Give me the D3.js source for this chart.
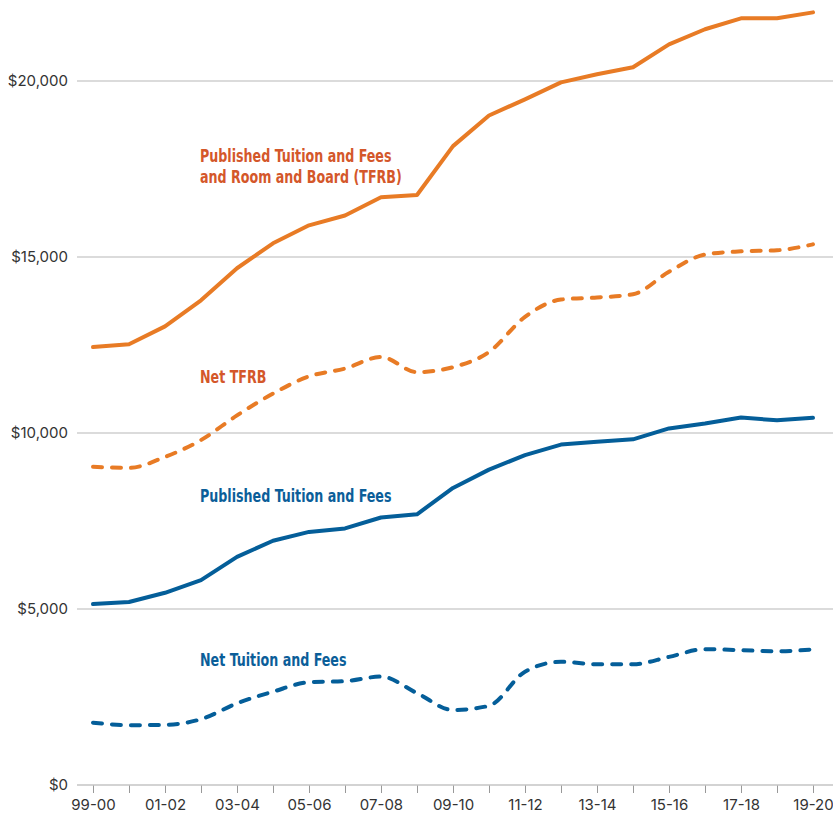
<!DOCTYPE html>
<html>
<head>
<meta charset="utf-8">
<script src="https://cdn.jsdelivr.net/npm/d3@7"></script>
<style>
  body { margin: 0; background: #fff; }
  svg { display: block; }
</style>
</head>
<body>
<div class="chart"></div>
<script>
// Academic years on the x axis
var years = ["99-00", "00-01", "01-02", "02-03", "03-04", "04-05", "05-06", "06-07", "07-08", "08-09",
             "09-10", "10-11", "11-12", "12-13", "13-14", "14-15", "15-16", "16-17", "17-18", "18-19", "19-20"];

// Only every other year gets a label
var yearLabels = ["99-00", "01-02", "03-04", "05-06", "07-08", "09-10", "11-12", "13-14", "15-16", "17-18", "19-20"];

var yTicks = [0, 5000, 10000, 15000, 20000];

// Series values (dollars)
var publishedTFRB = [12440, 12520, 13030, 13770, 14680, 15390, 15900, 16180, 16700, 16760,
                     18150, 19020, 19480, 19960, 20190, 20390, 21040, 21470, 21780, 21780, 21950];
var netTFRB = [9040, 9010, 9320, 9800, 10500, 11120, 11610, 11830, 12160, 11730,
               11870, 12300, 13300, 13790, 13850, 13940, 14580, 15070, 15160, 15190, 15360];
var publishedTF = [5140, 5200, 5460, 5820, 6480, 6940, 7190, 7290, 7600, 7690,
                   8440, 8960, 9370, 9670, 9750, 9820, 10130, 10270, 10440, 10360, 10430];
var netTF = [1770, 1700, 1710, 1870, 2320, 2650, 2920, 2950, 3080, 2610,
             2130, 2250, 3220, 3500, 3430, 3430, 3640, 3860, 3830, 3800, 3850];

var width = 833, height = 819;
var orange = "#e87b25", blue = "#045e99";
var orangeText = "#d4572a", blueText = "#0b5e99";

var svg = d3.select(".chart").append("svg")
  .attr("width", width)
  .attr("height", height);

//Scales
var x = d3.scalePoint().domain(years).range([93, 813]);
var y = d3.scaleLinear().domain([0, 20000]).range([785, 81]);

//Grid lines
svg.selectAll(".grid").data(yTicks.slice(1)).enter().append("line")
  .attr("x1", 77).attr("x2", width)
  .attr("y1", function(d) { return y(d); })
  .attr("y2", function(d) { return y(d); })
  .attr("stroke", "#cfcfcf")
  .attr("stroke-width", 1.5);

//Y axis labels
var yAxis = d3.axisLeft(y).tickValues(yTicks).tickSize(0).tickPadding(0).tickFormat(d3.format("$,"));
svg.append("g").attr("transform", "translate(68,0)").call(yAxis)
  .call(function(g) { g.select(".domain").remove(); })
  .selectAll("text")
  .attr("font-family", "Inter, 'Open Sans', sans-serif")
  .attr("font-size", 15)
  .attr("fill", "#333");

//X axis
var xAxis = d3.axisBottom(x).tickSize(8).tickPadding(6)
  .tickFormat(function(d) { return yearLabels.indexOf(d) >= 0 ? d : ""; });
var gx = svg.append("g").attr("transform", "translate(0," + y(0) + ")").call(xAxis);
gx.select(".domain").remove();
gx.selectAll(".tick line").attr("stroke", "#999").attr("stroke-width", 1);
gx.selectAll("text")
  .attr("font-family", "Inter, 'Open Sans', sans-serif")
  .attr("font-size", 15)
  .attr("fill", "#333");
gx.append("line")
  .attr("x1", 77).attr("x2", width)
  .attr("stroke", "#c4c4c4").attr("stroke-width", 1.5);

//Lines: published series are straight segments, net series are smoothed
var straight = d3.line()
  .x(function(d, i) { return x(years[i]); })
  .y(function(d) { return y(d); });
var smooth = d3.line()
  .x(function(d, i) { return x(years[i]); })
  .y(function(d) { return y(d); })
  .curve(d3.curveMonotoneX);

var series = [
  { values: publishedTFRB, color: orange, dash: null, gen: straight },
  { values: netTFRB, color: orange, dash: "9 10", gen: smooth },
  { values: publishedTF, color: blue, dash: null, gen: straight },
  { values: netTF, color: blue, dash: "9 10", gen: smooth }
];

svg.selectAll(".series").data(series).enter().append("path")
  .attr("d", function(d) { return d.gen(d.values); })
  .attr("fill", "none")
  .attr("stroke", function(d) { return d.color; })
  .attr("stroke-width", 4)
  .attr("stroke-linecap", "round")
  .attr("stroke-linejoin", "round")
  .attr("stroke-dasharray", function(d) { return d.dash; });

//Series labels (condensed bold, squeezed horizontally)
var labels = [
  { lines: ["Published Tuition and Fees", "and Room and Board (TFRB)"], y: 162, color: orangeText },
  { lines: ["Net TFRB"], y: 383, color: orangeText },
  { lines: ["Published Tuition and Fees"], y: 502, color: blueText },
  { lines: ["Net Tuition and Fees"], y: 666, color: blueText }
];

labels.forEach(function(l) {
  var t = svg.append("text")
    .attr("transform", "translate(200," + l.y + ") scale(0.805,1)")
    .attr("font-family", "'DejaVu Sans Condensed', 'DejaVu Sans', sans-serif")
    .attr("font-weight", "bold")
    .attr("font-size", 17.5)
    .attr("fill", l.color);
  l.lines.forEach(function(s, i) {
    t.append("tspan").attr("x", 0).attr("dy", i === 0 ? 0 : 21).text(s);
  });
});
</script>
</body>
</html>
